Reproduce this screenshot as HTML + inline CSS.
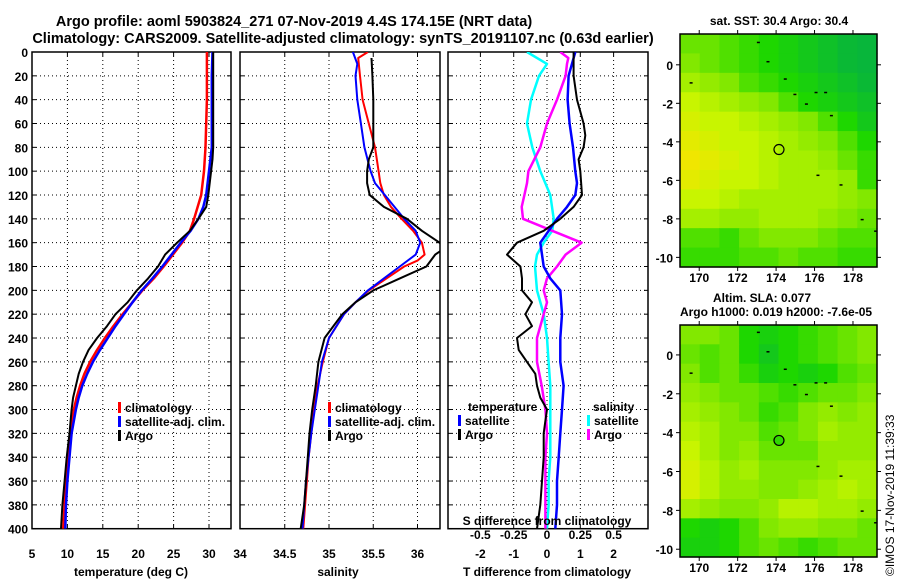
<!DOCTYPE html>
<html><head><meta charset="utf-8">
<style>
html,body{margin:0;padding:0;background:#fff;}
svg{display:block;font-family:"Liberation Sans",sans-serif;font-weight:bold;}
</style></head>
<body>
<svg id="fig" width="900" height="580" viewBox="0 0 900 580" xmlns="http://www.w3.org/2000/svg">
<rect width="900" height="580" fill="#fff"/>
<text x="294" y="26" font-size="14.5" text-anchor="middle">Argo profile: aoml 5903824_271 07-Nov-2019 4.4S 174.15E (NRT data)</text>
<text x="343" y="43" font-size="14.5" text-anchor="middle">Climatology: CARS2009. Satellite-adjusted climatology: synTS_20191107.nc (0.63d earlier)</text>
<text x="779" y="25" font-size="12" text-anchor="middle">sat. SST: 30.4 Argo: 30.4</text>
<text x="762" y="302" font-size="12" text-anchor="middle">Altim. SLA: 0.077</text>
<text x="776" y="316" font-size="12" text-anchor="middle">Argo h1000: 0.019 h2000: -7.6e-05</text>
<text transform="translate(894,576) rotate(-90)" font-size="12" font-weight="normal">©IMOS 17-Nov-2019 11:39:33</text>
<g id="plots"></g>
</svg>
<script>
// ---------- data ----------
const depthTick = [0,20,40,60,80,100,120,140,160,180,200,220,240,260,280,300,320,340,360,380,400];
const tempTicks = [5,10,15,20,25,30,34];
const salTicks = [34,34.5,35,35.5,36];
const salTickLabels = ["34.5","35","35.5","36"];
const tdTicks = [-2,-1,0,1,2];
const sdTicks = [-0.5,-0.25,0,0.25,0.5];
const sdTickLabels = ["-0.5","-0.25","0","0.25","0.5"];

const tClimDepth = [0,20,40,60,80,100,120,140,150,160,170,180,190,200,210,220,230,240,250,260,270,280,290,300,320,340,360,380,400];
const tClim      = [29.7,29.7,29.7,29.6,29.5,29.3,28.9,27.9,27.3,26.2,24.9,23.6,22.2,20.6,19.2,17.8,16.5,15.3,14.2,13.2,12.4,11.8,11.3,10.9,10.4,10.1,9.8,9.6,9.4];
const tSatDepth = [0,20,40,60,80,90,100,120,130,140,150,160,170,180,190,200,210,220,230,240,250,260,270,280,290,300,320,340,360,380,400];
const tSat      = [30.5,30.4,30.4,30.4,30.4,30.2,30.0,29.6,29.2,28.5,27.4,26.0,24.7,23.4,22.0,20.5,19.2,18.0,16.8,15.7,14.6,13.6,12.8,12.1,11.6,11.2,10.6,10.3,10.0,9.8,9.7];
const tArgoDepth = [0,20,40,60,80,90,100,120,130,140,150,160,170,180,190,200,210,220,230,240,250,260,270,280,290,300,320,340,360,380,400];
const tArgo      = [30.6,30.6,30.6,30.6,30.6,30.5,30.3,29.9,29.6,28.5,27.3,25.5,23.8,22.8,21.4,19.8,18.5,16.8,15.6,14.2,13.0,12.2,11.6,11.2,10.8,10.6,10.3,9.9,9.6,9.3,9.1];

const sClimDepth = [0,5,20,40,60,80,100,110,120,130,140,150,160,170,175,180,190,200,210,220,240,260,280,300,320,340,360,380,400];
const sClim      = [35.44,35.33,35.35,35.38,35.45,35.52,35.56,35.58,35.62,35.7,35.82,35.95,36.05,36.08,36.0,35.85,35.65,35.45,35.3,35.17,35.0,34.93,34.87,34.83,34.8,34.77,34.75,34.73,34.71];
const sSatDepth = [0,10,20,40,60,80,100,110,120,130,140,150,160,170,180,190,200,210,220,240,260,280,300,320,340,360,380,400];
const sSat      = [35.27,35.32,35.3,35.32,35.36,35.4,35.47,35.52,35.63,35.74,35.85,35.98,36.03,35.98,35.8,35.62,35.44,35.3,35.17,35.0,34.92,34.88,34.84,34.8,34.77,34.74,34.72,34.7];
const sArgoDepth = [5,20,40,60,80,90,100,110,120,130,140,150,160,165,170,180,190,200,210,220,230,240,260,280,300,320,340,360,380,400];
const sArgo      = [35.48,35.49,35.5,35.5,35.5,35.45,35.43,35.43,35.46,35.62,35.88,36.05,36.25,36.3,36.2,36.1,35.8,35.5,35.3,35.15,35.05,34.95,34.88,34.85,34.81,34.78,34.76,34.74,34.72,34.68];

const dTSatDepth = [0,20,40,60,80,100,110,120,130,140,150,160,170,180,190,200,220,240,260,280,300,320,340,360,380,400];
const dTSat      = [0.85,0.65,0.62,0.68,0.78,0.85,0.9,0.85,0.6,0.3,0.05,-0.2,-0.15,-0.1,0.1,0.4,0.45,0.4,0.4,0.5,0.45,0.4,0.35,0.3,0.3,0.25];
const dTArgoDepth = [0,20,40,60,70,80,90,100,120,130,140,150,160,170,180,190,200,210,220,230,240,250,260,270,280,290,300,310,320,340,360,380,400];
const dTArgo      = [0.8,0.8,0.9,1.1,1.15,1.1,0.95,1.0,1.05,0.8,0.4,-0.1,-0.9,-1.2,-0.8,-0.75,-0.75,-0.45,-0.65,-0.45,-0.9,-0.85,-0.6,-0.35,-0.3,-0.2,0.0,-0.05,-0.1,-0.1,-0.15,-0.2,-0.3];
const dSSatDepth = [0,10,20,40,60,80,100,120,140,150,160,170,180,200,220,240,260,280,300,320,340,360,380,400];
const dSSat      = [-0.15,0.0,-0.06,-0.12,-0.15,-0.11,-0.05,0.025,0.05,0.04,-0.025,-0.075,-0.09,-0.075,-0.025,0.0,0.012,0.025,0.025,0.025,0.025,0.012,0.012,0.0];
const dSArgoDepth = [0,5,10,20,40,60,80,100,110,120,130,140,150,160,170,180,190,200,210,220,240,260,280,300,320,340,360,380,400];
const dSArgo      = [0.1,0.16,0.15,0.14,0.075,0.0,-0.05,-0.14,-0.15,-0.17,-0.19,-0.18,0.04,0.26,0.14,0.075,0.0,-0.025,0.0,-0.025,-0.075,-0.075,-0.04,-0.012,0.0,-0.012,-0.012,-0.012,-0.012];

const lonTicks = [170,172,174,176,178];
const latTicks = [0,-2,-4,-6,-8,-10];
const sstGrid = [
 [.45,.45,.4,.35,.3,.25,.2,.15,.1,.08],
 [.5,.45,.4,.35,.3,.25,.2,.15,.1,.08],
 [.6,.55,.5,.4,.35,.3,.25,.2,.15,.1],
 [.7,.65,.6,.55,.5,.4,.3,.25,.2,.15],
 [.75,.7,.7,.65,.6,.55,.5,.4,.3,.2],
 [.8,.75,.7,.7,.65,.6,.55,.5,.4,.3],
 [.85,.8,.75,.7,.65,.6,.6,.55,.45,.35],
 [.8,.75,.7,.7,.65,.6,.6,.6,.55,.35],
 [.7,.7,.65,.6,.6,.6,.6,.6,.55,.5],
 [.6,.6,.55,.55,.6,.6,.6,.55,.5,.45],
 [.4,.4,.35,.45,.5,.5,.5,.45,.4,.4],
 [.35,.35,.35,.4,.4,.45,.4,.4,.35,.35]];
const slaGrid = [
 [.5,.5,.45,.3,.25,.3,.35,.4,.45,.5],
 [.45,.4,.45,.3,.2,.3,.35,.4,.45,.5],
 [.5,.4,.45,.35,.25,.3,.25,.3,.4,.45],
 [.55,.5,.45,.45,.4,.35,.4,.45,.45,.5],
 [.6,.55,.5,.45,.35,.4,.5,.55,.5,.55],
 [.65,.6,.5,.5,.4,.45,.5,.6,.55,.55],
 [.7,.6,.5,.55,.45,.45,.45,.55,.55,.55],
 [.75,.65,.55,.6,.5,.5,.5,.55,.6,.6],
 [.75,.65,.55,.55,.5,.5,.55,.6,.65,.6],
 [.6,.55,.5,.5,.55,.65,.65,.6,.6,.55],
 [.3,.25,.3,.4,.5,.55,.55,.5,.5,.45],
 [.25,.25,.3,.4,.45,.4,.35,.4,.45,.45]];
const argoLon = 174.15, argoLat = -4.4;

// ---------- helpers ----------
const NS = "http://www.w3.org/2000/svg";
const root = document.getElementById("plots");
function mk(tag, attrs, parent) {
  const e = document.createElementNS(NS, tag);
  for (const k in attrs) e.setAttribute(k, attrs[k]);
  (parent || root).appendChild(e);
  return e;
}
function txt(s, x, y, size, anchor, parent) {
  const t = mk("text", {x:x, y:y, "font-size":size, "text-anchor":anchor||"middle"}, parent);
  t.textContent = s;
  return t;
}
const Y0 = 52, Y1 = 528.7;
const yD = d => Y0 + d/400*(Y1-Y0);

function panel(name, x0, x1, xs, xTickVals, clipId) {
  const g = mk("g", {});
  
  
  const cp = mk("clipPath", {id: clipId}, g);
  mk("rect", {x:x0, y:Y0, width:x1-x0, height:Y1-Y0}, cp);
  depthTick.forEach(d => {
    if (d>0 && d<400) {
      const l = mk("line", {x1:x0, x2:x1, y1:yD(d), y2:yD(d), stroke:"#000", "stroke-width":1, "stroke-dasharray":"1,3"}, g);
      
      
    }
    mk("line", {x1:x0, x2:x0+4, y1:yD(d), y2:yD(d), stroke:"#000"}, g);
    mk("line", {x1:x1-4, x2:x1, y1:yD(d), y2:yD(d), stroke:"#000"}, g);
  });
  xTickVals.forEach(v => {
    const x = xs(v);
    if (x > x0+1 && x < x1-1) {
      const l = mk("line", {x1:x, x2:x, y1:Y0, y2:Y1, stroke:"#000", "stroke-dasharray":"1,3"}, g);
      
      
      mk("line", {x1:x, x2:x, y1:Y0, y2:Y0+4, stroke:"#000"}, g);
      mk("line", {x1:x, x2:x, y1:Y1-4, y2:Y1, stroke:"#000"}, g);
    }
  });
  const fr = mk("rect", {x:x0, y:Y0, width:x1-x0, height:Y1-Y0, fill:"none", stroke:"#000", "stroke-width":1.5}, g);
  
  
  return g;
}
function series(g, name, depths, vals, xs, color, w, clipId) {
  const pts = depths.map((d,i) => xs(vals[i]).toFixed(1)+","+yD(d).toFixed(1)).join(" ");
  const p = mk("polyline", {points:pts, fill:"none", stroke:color, "stroke-width":w, "clip-path":"url(#"+clipId+")", "stroke-linejoin":"round"}, g);
  
  
}
function legend(g, items, x, y) {
  items.forEach((it, i) => {
    mk("rect", {x:x, y:y+i*14-10, width:3, height:11, fill:it[1]}, g);
    const t = txt(it[0], x+7, y+i*14, 12, "start", g);
    
    
  });
}

// ---------- temperature panel ----------
const TX0 = 32, TX1 = 231;
const xT = v => TX0 + (v-5)*7.08;
const gT = panel("temperature-panel", TX0, TX1, xT, tempTicks, "clipT");
series(gT, "temp-climatology-line", tClimDepth, tClim, xT, "#f00", 2.5, "clipT");
series(gT, "temp-satellite-line", tSatDepth, tSat, xT, "#00f", 2.5, "clipT");
series(gT, "temp-argo-line", tArgoDepth, tArgo, xT, "#000", 2, "clipT");
depthTick.forEach(d => { const t = txt(String(d), 28, yD(d)+5, 12, "end");   });
tempTicks.forEach(v => { if (v<34) { const t = txt(String(v), xT(v), 558, 12);   }});
{ const t = txt("34", 240, 558, 12);   }
{ const t = txt("temperature (deg C)", 131, 576, 12);   }
legend(gT, [["climatology","#f00"],["satellite-adj. clim.","#00f"],["Argo","#000"]], 118, 412);

// ---------- salinity panel ----------
const SX0 = 240, SX1 = 440;
const xS = v => 329 + (v-35)*88.5;
const gS = panel("salinity-panel", SX0, SX1, xS, salTicks, "clipS");
series(gS, "sal-climatology-line", sClimDepth, sClim, xS, "#f00", 2, "clipS");
series(gS, "sal-satellite-line", sSatDepth, sSat, xS, "#00f", 2, "clipS");
series(gS, "sal-argo-line", sArgoDepth, sArgo, xS, "#000", 2, "clipS");
salTickLabels.forEach(s => { const t = txt(s, xS(parseFloat(s)), 558, 12);   });
{ const t = txt("salinity", 338, 576, 12);   }
legend(gS, [["climatology","#f00"],["satellite-adj. clim.","#00f"],["Argo","#000"]], 328, 412);

// ---------- difference panel ----------
const DX0 = 448, DX1 = 648;
const xDT = v => 547 + v*33.3;
const xDS = v => 547 + v*4*33.3;
const gD = panel("difference-panel", DX0, DX1, xDT, tdTicks, "clipD");
series(gD, "sal-sat-diff-line", dSSatDepth, dSSat, xDS, "#0ff", 2.5, "clipD");
series(gD, "sal-argo-diff-line", dSArgoDepth, dSArgo, xDS, "#f0f", 2.5, "clipD");
series(gD, "temp-sat-diff-line", dTSatDepth, dTSat, xDT, "#00f", 2.5, "clipD");
series(gD, "temp-argo-diff-line", dTArgoDepth, dTArgo, xDT, "#000", 2, "clipD");
tdTicks.forEach(v => { const t = txt(String(v), xDT(v), 558, 12);   });
sdTickLabels.forEach((s,i) => { const t = txt(s, xDS(sdTicks[i]), 539, 12, "middle", gD);   });
{ const t = txt("S difference from climatology", 547, 525, 12, "middle", gD);   }
{ const t = txt("T difference from climatology", 547, 576, 12);   }
{ const t = txt("temperature", 468, 411, 12, "start", gD);   }
{ const t = txt("salinity", 593, 411, 12, "start", gD);   }
legend(gD, [["satellite","#00f"],["Argo","#000"]], 458, 425);
legend(gD, [["satellite","#0ff"],["Argo","#f0f"]], 587, 425);

// ---------- maps ----------
const stops = [[0,[0,170,80]],[0.3,[30,215,0]],[0.5,[130,232,0]],[0.7,[200,245,0]],[0.85,[240,230,0]],[1,[250,170,20]]];
function cmap(v) {
  for (let i=1;i<stops.length;i++) {
    if (v <= stops[i][0]) {
      const a = stops[i-1], b = stops[i], f = (v-a[0])/(b[0]-a[0]);
      return "rgb("+a[1].map((c,k)=>Math.round(c+(b[1][k]-c)*f)).join(",")+")";
    }
  }
  return "rgb(250,170,20)";
}
function mapPanel(name, grid, top, bot, latTop, latBot, markerFill) {
  const MX0 = 680, MX1 = 877;
  const xL = lon => MX0 + (lon-169.0)/(179.25-169.0)*(MX1-MX0);
  const yL = lat => top + (latTop-lat)/(latTop-latBot)*(bot-top);
  const g = mk("g", {});
  
  
  const rows = grid.length, cols = grid[0].length;
  const cw = (MX1-MX0)/cols, ch = (bot-top)/rows;
  grid.forEach((row, j) => row.forEach((v, i) => {
    const r = mk("rect", {x:MX0+i*cw, y:top+j*ch, width:cw+0.6, height:ch+0.6, fill:cmap(v)}, g);
    
    
  }));
  [[173.0,1.2],[173.5,0.2],[174.4,-0.7],[174.9,-1.5],[175.5,-2.0],[176.0,-1.4],[176.5,-1.4],[176.8,-2.6],[176.1,-5.7],[177.3,-6.2],[178.4,-8.0],[179.1,-8.6],[169.5,-0.9]].forEach(p => {
    mk("rect", {x:xL(p[0]), y:yL(p[1]), width:3, height:1.5, fill:"#000"}, g);
  });
  const c = mk("circle", {cx:xL(argoLon), cy:yL(argoLat), r:5, fill:markerFill, stroke:"#000", "stroke-width":1.2}, g);
  
  
  mk("rect", {x:MX0, y:top, width:MX1-MX0, height:bot-top, fill:"none", stroke:"#000", "stroke-width":1.5}, g);
  lonTicks.forEach(lon => {
    mk("line", {x1:xL(lon), x2:xL(lon), y1:top-4, y2:top, stroke:"#000"}, g);
    mk("line", {x1:xL(lon), x2:xL(lon), y1:bot, y2:bot+4, stroke:"#000"}, g);
    const t = txt(String(lon), xL(lon), bot+15, 12, "middle", g);
    
    
  });
  latTicks.forEach(lat => {
    mk("line", {x1:MX0-4, x2:MX0, y1:yL(lat), y2:yL(lat), stroke:"#000"}, g);
    mk("line", {x1:MX1, x2:MX1+4, y1:yL(lat), y2:yL(lat), stroke:"#000"}, g);
    const t = txt(String(lat), 673, yL(lat)+5, 12, "end", g);
    
    
  });
}
mapPanel("sst-map", sstGrid, 34, 267, 1.6, -10.5, "none");
mapPanel("sla-map", slaGrid, 325, 557, 1.54, -10.4, "#30d800");
</script>
</body></html>
